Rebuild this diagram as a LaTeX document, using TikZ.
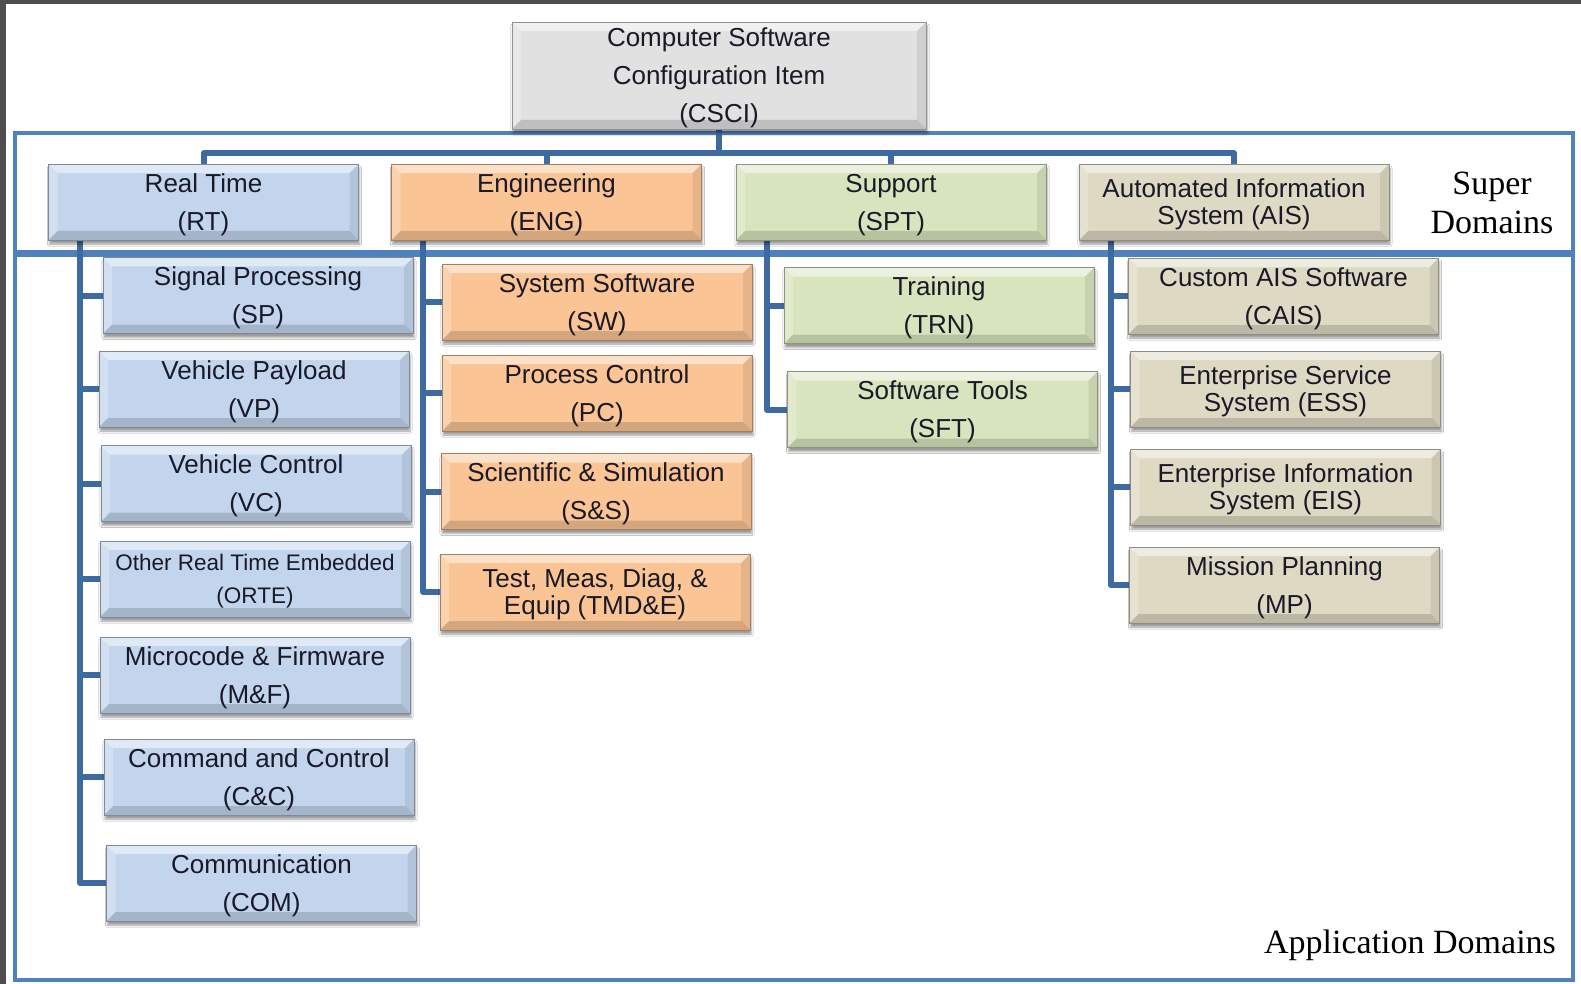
\documentclass[tikz,border=0pt]{standalone}
\usepackage{fontspec}
\setmainfont{Liberation Sans}
\newfontfamily\tmsfont{Liberation Serif}
\usetikzlibrary{shadows,shadows.blur}
\definecolor{rtblue}{RGB}{194,213,237}
\definecolor{engorange}{RGB}{250,196,148}
\definecolor{sptgreen}{RGB}{215,228,189}
\definecolor{aisbeige}{RGB}{221,217,195}
\definecolor{csgray}{RGB}{225,225,225}
\definecolor{linkblue}{RGB}{62,106,162}
\definecolor{framblue}{RGB}{79,129,189}
\definecolor{txtdark}{RGB}{25,25,40}
\definecolor{edgegray}{RGB}{78,78,78}
\pgfdeclarelayer{bg}
\pgfsetlayers{bg,main}
\tikzset{
  bevel/.style={path picture={
    \path (path picture bounding box.north west) coordinate (bvA)
          (path picture bounding box.north east) coordinate (bvB)
          (path picture bounding box.south east) coordinate (bvC)
          (path picture bounding box.south west) coordinate (bvD);
    \fill[white,opacity=.5] (bvA) -- (bvB) -- ([shift={(-9pt,-9pt)}]bvB) -- ([shift={(9pt,-9pt)}]bvA) -- cycle;
    \fill[white,opacity=.25] (bvA) -- ([shift={(9pt,-9pt)}]bvA) -- ([shift={(9pt,9pt)}]bvD) -- (bvD) -- cycle;
    \fill[black,opacity=.08] (bvB) -- (bvC) -- ([shift={(-9pt,9pt)}]bvC) -- ([shift={(-9pt,-9pt)}]bvB) -- cycle;
    \fill[black,opacity=.15] (bvD) -- (bvC) -- ([shift={(-9pt,9pt)}]bvC) -- ([shift={(9pt,9pt)}]bvD) -- cycle;
  }}
}
\begin{document}
\begin{tikzpicture}[x=1pt,y=-1pt,
    box/.style={fill=#1,draw=#1!65!black,line width=.8pt,minimum width=310pt,minimum height=76pt,
      inner sep=0pt,align=center,text=txtdark,font=\fontsize{26}{38}\selectfont,text depth=0pt,
      blur shadow={shadow xshift=1pt,shadow yshift=-4pt,shadow opacity=40},bevel},
    tight/.style={font=\fontsize{26}{27}\selectfont},
    link/.style={linkblue,line width=6pt,line join=round},
    domframe/.style={framblue,line width=4pt}]
    \useasboundingbox (0,0) rectangle (1581,984);

    % top item and super domains
    \node[box=csgray,minimum width=414pt,minimum height=107pt] (csci) at (719,75.5) {Computer Software\\Configuration Item\\(CSCI)};
    \node[box=rtblue] (rt) at (203.5,202) {Real Time\\(RT)};
    \node[box=engorange] (eng) at (546.5,202) {Engineering\\(ENG)};
    \node[box=sptgreen] (spt) at (891,202) {Support\\(SPT)};
    \node[box=aisbeige,tight] (ais) at (1234,202) {Automated Information\\System (AIS)};

    % real time
    \node[box=rtblue] (sp) at (258,295.5) {Signal Processing\\(SP)};
    \node[box=rtblue] (vp) at (254,389) {Vehicle Payload\\(VP)};
    \node[box=rtblue] (vc) at (256,483.5) {Vehicle Control\\(VC)};
    \node[box=rtblue,font=\fontsize{22.5}{33}\selectfont] (orte) at (255,579) {Other Real Time Embedded\\(ORTE)};
    \node[box=rtblue] (mf) at (255,675) {Microcode \& Firmware\\(M\&F)};
    \node[box=rtblue] (cc) at (259,777) {Command and Control\\(C\&C)};
    \node[box=rtblue] (com) at (261.5,883) {Communication\\(COM)};

    % engineering
    \node[box=engorange] (sw) at (597,302) {System Software\\(SW)};
    \node[box=engorange] (pc) at (597,393) {Process Control\\(PC)};
    \node[box=engorange] (ss) at (596,491.5) {Scientific \& Simulation\\(S\&S)};
    \node[box=engorange,tight] (tmde) at (595,592) {Test, Meas, Diag, \&\\Equip (TMD\&E)};

    % support
    \node[box=sptgreen] (trn) at (939,305.5) {Training\\(TRN)};
    \node[box=sptgreen] (sft) at (942.5,409.5) {Software Tools\\(SFT)};

    % AIS
    \node[box=aisbeige] (cais) at (1283.5,296) {Custom AIS Software\\(CAIS)};
    \node[box=aisbeige,tight] (ess) at (1285.5,389) {Enterprise Service\\System (ESS)};
    \node[box=aisbeige,tight] (eis) at (1285.5,487) {Enterprise Information\\System (EIS)};
    \node[box=aisbeige] (mp) at (1284.5,585) {Mission Planning\\(MP)};

    \node[font=\tmsfont\fontsize{34}{39}\selectfont,align=center] (supl) at (1492,203) {Super\\Domains};
    \node[font=\tmsfont\fontsize{34}{39}\selectfont] (appl) at (1410,945) {Application Domains};

    \begin{pgfonlayer}{bg}
    \fill[white] (0,0) rectangle (1581,984);
    \fill[edgegray] (0,0) rectangle (1581,4);
    \fill[edgegray] (0,0) rectangle (6,984);
    \draw[domframe] (15,133) rectangle (1573,252);
    \draw[domframe] (15,255) rectangle (1573,980);

    \foreach \s in {rt,eng,spt,ais}
      \draw[link] (csci.south) -- ++(0,24) -| (\s.north);
    \foreach \c in {sp,vp,vc,orte,mf,cc,com}
      \draw[link] ([xshift=32pt]rt.south west) |- (\c.west);
    \foreach \c in {sw,pc,ss,tmde}
      \draw[link] ([xshift=32pt]eng.south west) |- (\c.west);
    \foreach \c in {trn,sft}
      \draw[link] ([xshift=31pt]spt.south west) |- (\c.west);
    \foreach \c in {cais,ess,eis,mp}
      \draw[link] ([xshift=32pt]ais.south west) |- (\c.west);
    \end{pgfonlayer}
\end{tikzpicture}
\end{document}
